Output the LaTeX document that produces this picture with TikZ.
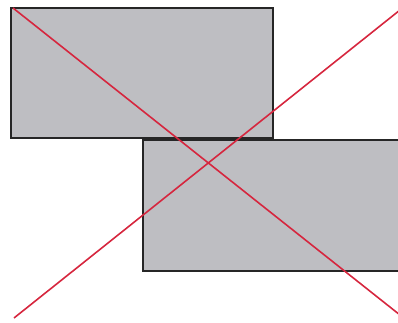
\documentclass[tikz,border=0pt]{standalone}
\usepackage{tikz}
\definecolor{boxgray}{RGB}{190,190,194}
\definecolor{crossred}{RGB}{214,38,62}

\begin{document}
\begin{tikzpicture}[x=1pt,y=-1pt]
		
		% page frame
		\useasboundingbox (0,0) rectangle (398,323);
		
		% upper box
		\draw[fill=boxgray, draw=black!85, line width=1.8pt] (11,8) rectangle (273,138);
		% lower box (runs off the right side)
		\draw[fill=boxgray, draw=black!85, line width=1.8pt] (143,140) rectangle (402,271);
		
		% end points of the cross
		\coordinate (tl) at (13,8);
		\coordinate (br) at (400,315);
		\coordinate (bl) at (14,318);
		\coordinate (tr) at (400,10);
		
		% the cross itself
		\draw[crossred, line width=1.6pt] (tl) -- (br);
		\draw[crossred, line width=1.6pt] (bl) -- (tr);
		
	\end{tikzpicture}
\end{document}
